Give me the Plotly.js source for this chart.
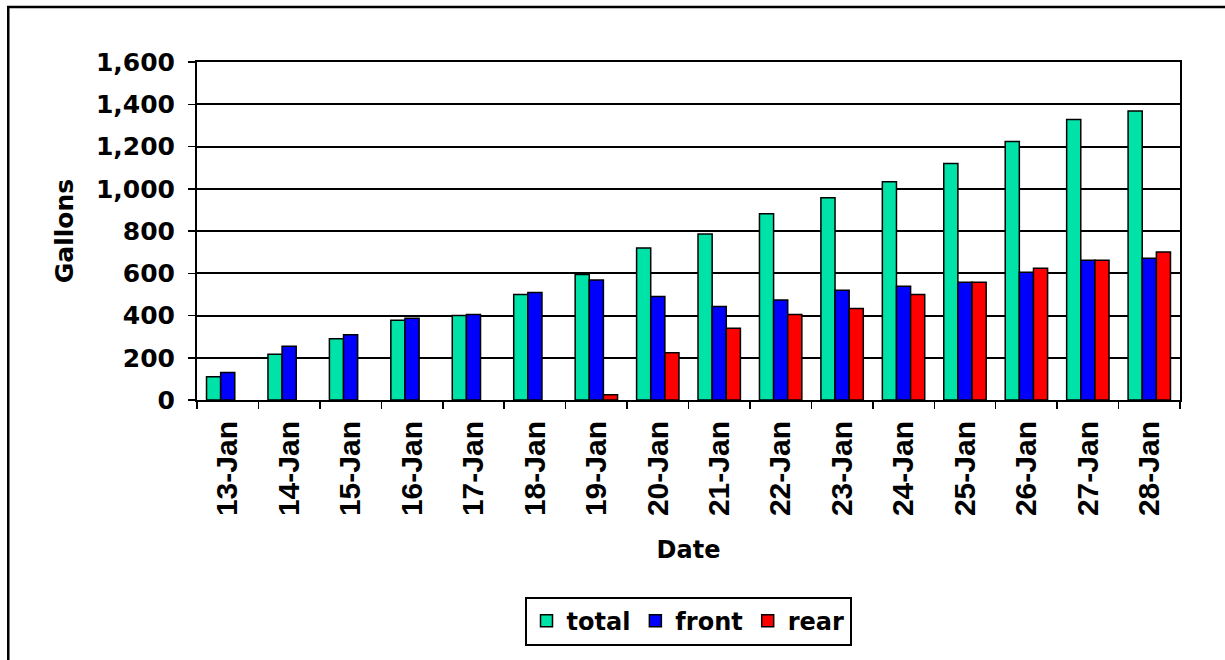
<!DOCTYPE html>
<html>
<head>
<meta charset="utf-8">
<script src="https://cdn.plot.ly/plotly-3.0.1.min.js"></script>
<style>html,body{margin:0;padding:0;background:#fff;}#chart{width:1225px;height:660px;}</style>
</head>
<body>
<div id="chart"></div>
<script>
const dates = ["13-Jan","14-Jan","15-Jan","16-Jan","17-Jan","18-Jan","19-Jan","20-Jan","21-Jan","22-Jan","23-Jan","24-Jan","25-Jan","26-Jan","27-Jan","28-Jan"];
const total = [110, 216, 290, 378, 400, 500, 594, 719, 786, 882, 957, 1033, 1119, 1224, 1328, 1368];
const front = [130, 254, 309, 387, 405, 509, 568, 490, 443, 473, 520, 538, 557, 605, 662, 671];
const rear  = [null, null, null, null, null, null, 25, 224, 340, 405, 433, 500, 557, 624, 662, 701];
const yTickVals = [0,200,400,600,800,1000,1200,1400,1600];
const yTickText = ["0","200","400","600","800","1,000","1,200","1,400","1,600"];

const font = "DejaVu Sans, Verdana, sans-serif";
const mk = (name, y, color) => ({
  type: "bar", name: name, x: dates, y: y,
  marker: {color: color, line: {color: "#000", width: 1.5}}
});
const data = [
  mk("total", total, "#00E3A8"),
  mk("front", front, "#0000FF"),
  mk("rear", rear, "#FF0000")
];
const layout = {
  width: 1225, height: 660,
  margin: {l: 197, r: 45, t: 62, b: 260},
  paper_bgcolor: "#fff", plot_bgcolor: "#fff",
  barmode: "group", bargap: 0.31, bargroupgap: 0,
  font: {family: font, color: "#000", size: 20},
  xaxis: {
    type: "category",
    tickangle: -90,
    ticks: "outside", ticklen: 7, tickwidth: 1.5, tickcolor: "#000",
    tickson: "boundaries",
    ticklabelstandoff: 7,
    showline: true, linecolor: "#000", linewidth: 2, mirror: true,
    tickfont: {family: "Liberation Sans, Arial, sans-serif", size: 30, weight: "bold"},
    title: {text: "<b>Date</b>", font: {family: font, size: 24}, standoff: 26},
    showgrid: false, zeroline: false
  },
  yaxis: {
    range: [0, 1600],
    tickvals: yTickVals, ticktext: yTickText,
    ticks: "outside", ticklen: 7, tickwidth: 1.5, tickcolor: "#000",
    ticklabelstandoff: 8,
    showline: true, linecolor: "#000", linewidth: 2, mirror: true,
    showgrid: true, gridcolor: "#000", gridwidth: 2,
    zeroline: false,
    tickfont: {family: font, size: 25, weight: "bold"},
    title: {text: "<b>Gallons</b>", font: {family: font, size: 25}, standoff: 15}
  },
  legend: {
    orientation: "h", x: 0.4995, xanchor: "center", y: -0.654, yanchor: "middle",
    bordercolor: "#000", borderwidth: 2, bgcolor: "#fff",
    font: {family: font, size: 24, weight: "bold"},
    itemwidth: 30, tracegroupgap: 0
  },
  shapes: [{
    type: "rect", xref: "paper", yref: "paper",
    x0: -0.192, x1: 1.2, y0: -1.0, y1: 1.163,
    line: {color: "#000", width: 2.5}, fillcolor: "rgba(0,0,0,0)", layer: "below"
  }],
  showlegend: true
};
Plotly.newPlot("chart", data, layout, {displayModeBar: false, staticPlot: true});
</script>
</body>
</html>
